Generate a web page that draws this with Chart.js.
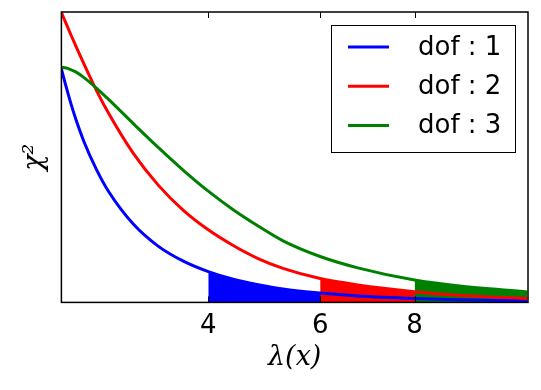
<!DOCTYPE html>
<html>
<head>
    <meta charset="UTF-8">
    <title>chi2 dof</title>
    <script src="https://cdn.jsdelivr.net/npm/chart.js"></script>
    <style>
        body {
          margin: 0;
          padding: 0;
          background-color: #ffffff;
        }
        canvas {
          display: block;
        }
    </style>
</head>
<body>
<canvas id="chiChart" width="541" height="390"></canvas>

<script>
    // axis is sqrt-spaced: tick "4" sits at 2.0, "6" at 2.449, "8" at 2.828
    const xs   = [1.41, 1.43, 1.45, 1.47, 1.5, 1.55, 1.6, 1.7, 1.8, 1.9, 2.0, 2.1, 2.2, 2.3, 2.449, 2.6, 2.828, 3.0, 3.28];
    const dof1 = [0.806, 0.741, 0.681, 0.627, 0.556, 0.460, 0.382, 0.269, 0.193, 0.142, 0.106, 0.080, 0.061, 0.046, 0.032, 0.022, 0.0134, 0.0095, 0.0057];
    const dof2 = [1.000, 0.959, 0.919, 0.880, 0.823, 0.732, 0.651, 0.512, 0.403, 0.317, 0.250, 0.196, 0.151, 0.117, 0.082, 0.060, 0.037, 0.025, 0.0136];
    const dof3 = [0.809, 0.807, 0.801, 0.793, 0.775, 0.739, 0.699, 0.615, 0.533, 0.455, 0.383, 0.319, 0.263, 0.212, 0.158, 0.119, 0.077, 0.057, 0.036];
    const seriesNames = ["dof : 1", "dof : 2", "dof : 3"];
    const tickValues = [2.0, 2.449, 2.828];
    const tickLabels = ["4", "6", "8"];
    const shadeFrom = [2.0, 2.449, 2.828];

    function points(ys, from) {
      const out = [];
      xs.forEach((x, i) => {
        if (x >= from) out.push({ x: x, y: ys[i] });
      });
      return out;
    }

    function lineSet(label, ys, color, order) {
      return {
        label: label,
        data: points(ys, -Infinity),
        borderColor: color,
        backgroundColor: color,
        borderWidth: 3,
        pointRadius: 0,
        fill: false,
        cubicInterpolationMode: "monotone",
        order: order
      };
    }

    function shadeSet(ys, from, color, order) {
      return {
        label: "",
        data: points(ys, from),
        borderColor: color,
        backgroundColor: color,
        borderWidth: 0,
        pointRadius: 0,
        fill: "origin",
        cubicInterpolationMode: "monotone",
        order: order
      };
    }

    // black frame plus inward tick marks, like the classic matplotlib look
    const framePlugin = {
      id: "frame",
      afterDatasetsDraw(chart) {
        const ctx = chart.ctx;
        const a = chart.chartArea;
        const x = chart.scales.x;
        ctx.save();
        ctx.strokeStyle = "#000";
        ctx.lineWidth = 1;
        tickValues.forEach(v => {
          const px = Math.round(x.getPixelForValue(v)) + 0.5;
          ctx.beginPath();
          ctx.moveTo(px, a.bottom);
          ctx.lineTo(px, a.bottom - 6);
          ctx.moveTo(px, a.top);
          ctx.lineTo(px, a.top + 6);
          ctx.stroke();
        });
        ctx.lineWidth = 1.5;
        ctx.strokeRect(a.left, a.top, a.right - a.left, a.bottom - a.top);
        ctx.restore();
      }
    };

    const legendPlugin = {
      id: "boxLegend",
      afterDraw(chart) {
        const ctx = chart.ctx;
        const a = chart.chartArea;
        const w = 184, h = 127;
        const bx = Math.round(a.right - 13 - w);
        const by = Math.round(a.top + 13);
        ctx.save();
        ctx.fillStyle = "#fff";
        ctx.fillRect(bx, by, w, h);
        ctx.strokeStyle = "#000";
        ctx.lineWidth = 1;
        ctx.strokeRect(bx + 0.5, by + 0.5, w, h);
        const rows = chart.data.datasets.filter(d => d.label !== "");
        rows.sort((p, q) => seriesNames.indexOf(p.label) - seriesNames.indexOf(q.label));
        rows.forEach((ds, i) => {
          const y = by + 22 + i * 39.3;
          ctx.strokeStyle = ds.borderColor;
          ctx.lineWidth = 3;
          ctx.beginPath();
          ctx.moveTo(bx + 17, y);
          ctx.lineTo(bx + 58, y);
          ctx.stroke();
          ctx.fillStyle = "#000";
          ctx.font = "26px 'DejaVu Sans'";
          ctx.textBaseline = "middle";
          ctx.fillText(ds.label, bx + 87, y + 1);
        });
        ctx.restore();
      }
    };

    const ctx = document.getElementById("chiChart").getContext("2d");
    new Chart(ctx, {
      type: "line",
      data: {
        datasets: [
          lineSet(seriesNames[2], dof3, "#008000", 0),
          lineSet(seriesNames[1], dof2, "#ff0000", 1),
          lineSet(seriesNames[0], dof1, "#0000ff", 2),
          shadeSet(dof3, shadeFrom[2], "#008000", 3),
          shadeSet(dof2, shadeFrom[1], "#ff0000", 4),
          shadeSet(dof1, shadeFrom[0], "#0000ff", 5)
        ]
      },
      options: {
        responsive: false,
        animation: false,
        layout: {
          padding: { left: 19, right: 13, top: 12, bottom: 16 }
        },
        plugins: {
          legend: { display: false },
          tooltip: { enabled: false }
        },
        scales: {
          x: {
            type: "linear",
            min: 1.4106,
            max: 3.283,
            afterBuildTicks: scale => {
              scale.ticks = tickValues.map(v => ({ value: v }));
            },
            grid: { display: false, drawTicks: false },
            border: { display: false },
            ticks: {
              autoSkip: false,
              maxRotation: 0,
              padding: 8,
              color: "#000",
              font: { family: "DejaVu Sans", size: 26 },
              callback: (value, index) => tickLabels[index]
            },
            title: {
              display: true,
              text: "λ(x)",
              color: "#000",
              font: { family: "DejaVu Serif", size: 27, style: "italic" },
              padding: { top: -8, bottom: 0 }
            }
          },
          y: {
            min: 0,
            max: 1,
            grid: { display: false, drawTicks: false },
            border: { display: false },
            ticks: { display: false },
            title: {
              display: true,
              text: "χ²",
              color: "#000",
              font: { family: "DejaVu Serif", size: 27, style: "italic" },
              padding: { top: 0, bottom: 10 }
            }
          }
        }
      },
      plugins: [framePlugin, legendPlugin]
    });
</script>
</body>
</html>
